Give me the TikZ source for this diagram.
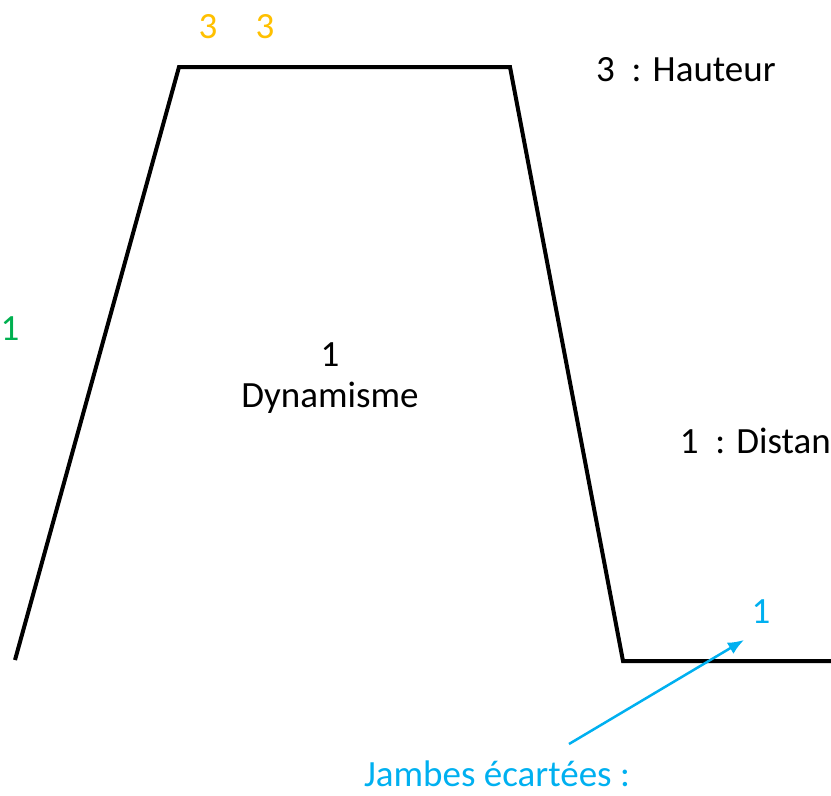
\documentclass[tikz,border=0pt]{standalone}
\usepackage{fontspec}
\setmainfont{Carlito}
\definecolor{orangeH}{HTML}{FFC000}
\definecolor{vertD}{HTML}{00B050}
\definecolor{bleuJ}{HTML}{00B0F0}
\tikzset{
  txt/.style={inner sep=0pt,font=\fontsize{37}{44}\selectfont},
  profil/.style={line width=4pt,line join=miter},
  fleche/.style={-{Latex[length=16pt,width=13pt]},line width=2.5pt,bleuJ}
}
\usetikzlibrary{arrows.meta}
\begin{document}
\begin{tikzpicture}[x=1pt,y=-1pt]
\useasboundingbox (0,0) rectangle (831,796);
\begin{scope}
\clip (0,0) rectangle (831,796);
% le profil du saut
\coordinate (A) at (15,660);
\coordinate (B) at (179,67);
\coordinate (C) at (510,67);
\coordinate (D) at (623,661);
\coordinate (E) at (840,661);
\draw [profil] (A) -- (B) -- (C) -- (D) -- (E);
% les textes
\node (h1) [txt,text=orangeH] at (208,27) {3};
\node (h2) [txt,text=orangeH] at (265,27) {3};
\node (haut) [txt,anchor=west] at (596,70) {3\ \ : Hauteur};
\node (dyn1) [txt,text=vertD] at (10,329) {1};
\node (un) [txt] at (330,355) {1};
\node (dyn) [txt] at (330,398) {Dynamisme};
\node (dist) [txt,anchor=east] at (831,441) {1\ \ : Distan};
\node (jb) [txt,text=bleuJ] at (761,612) {1};
\node (jambes) [txt,text=bleuJ] at (497,774) {Jambes écartées :};
\coordinate (depart) at (569,744);
\coordinate (arrivee) at (744,640);
\draw [fleche] (depart) -- (arrivee);
\end{scope}
\end{tikzpicture}
\end{document}
